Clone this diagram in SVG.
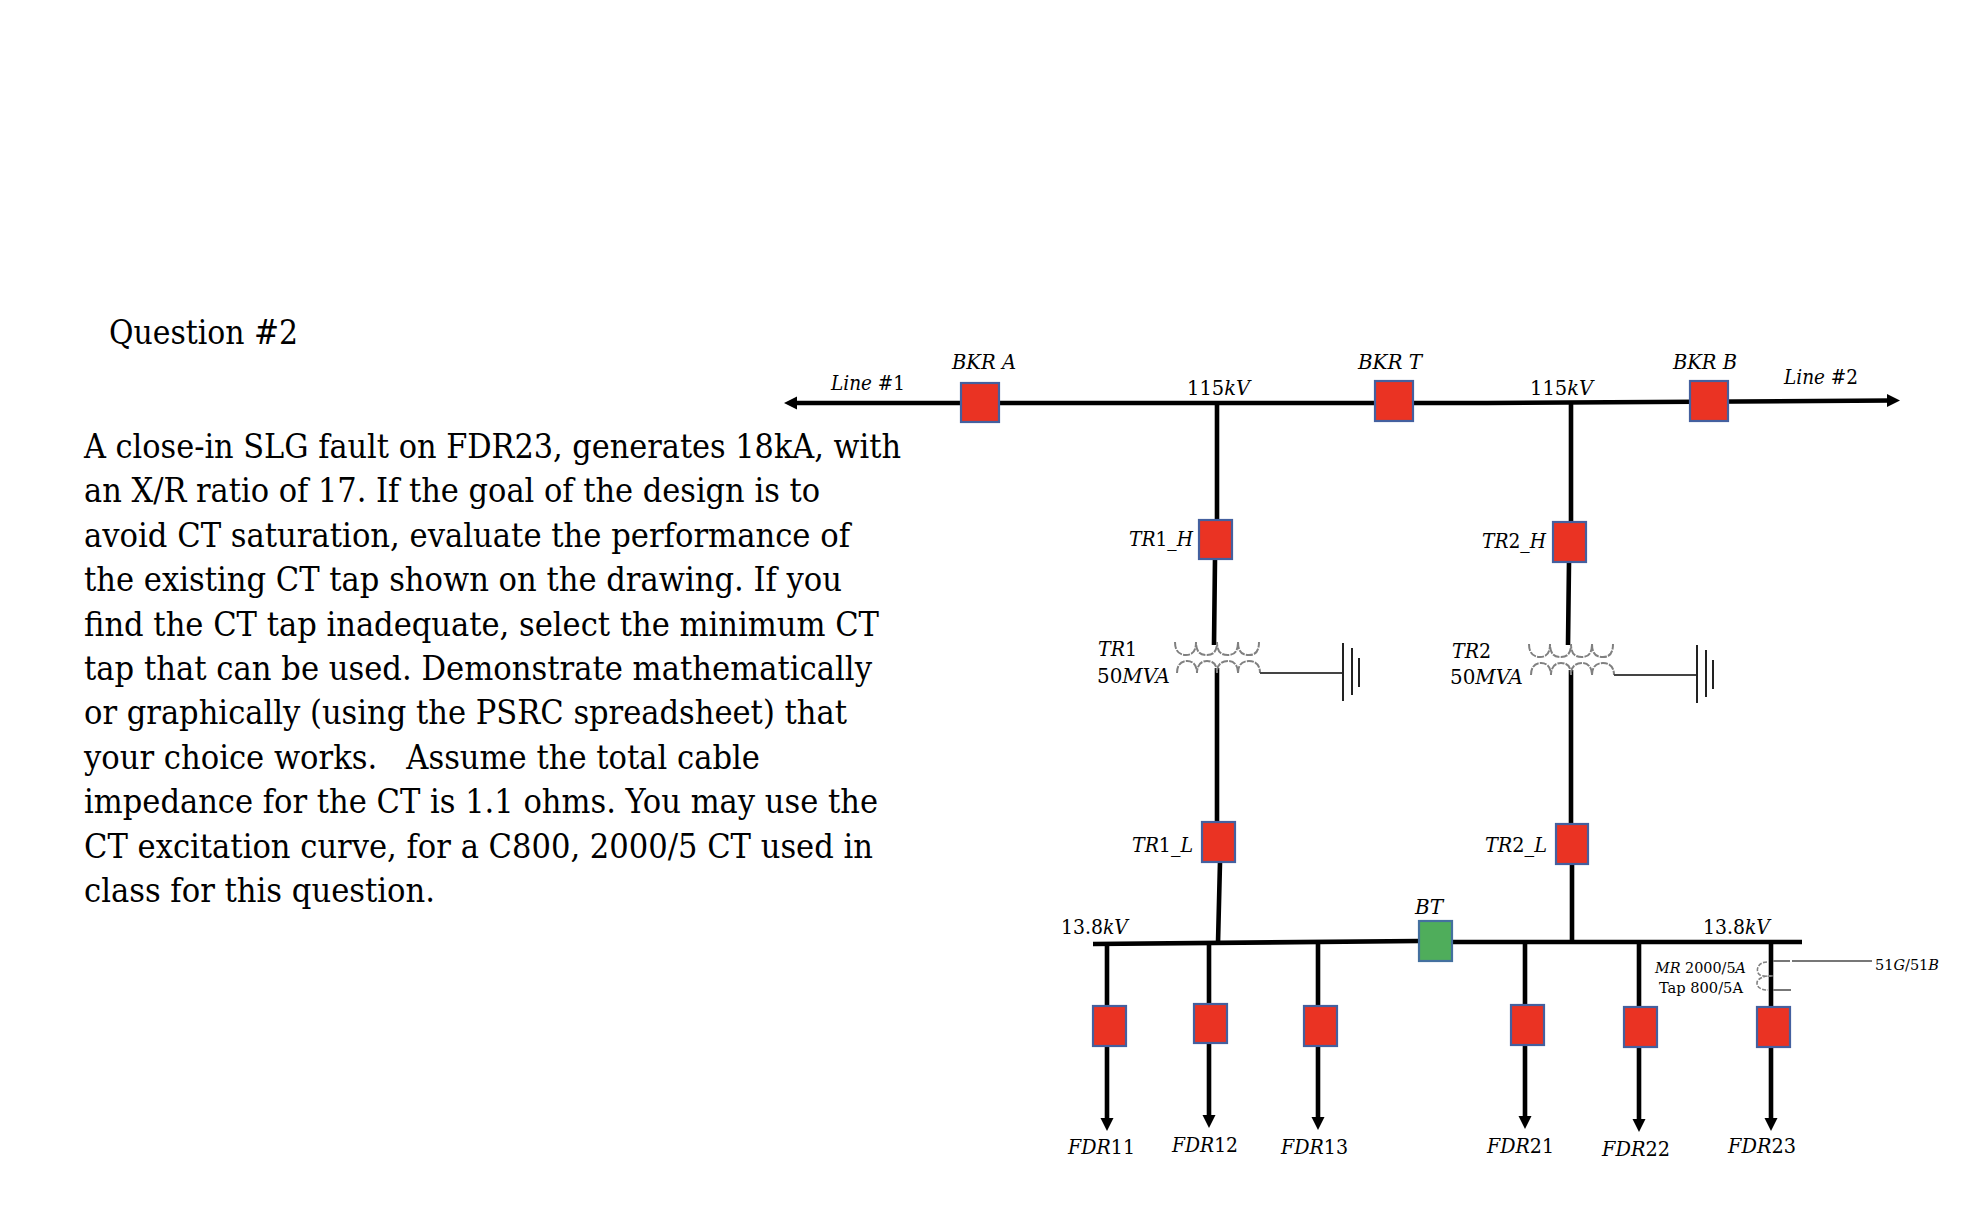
<svg xmlns="http://www.w3.org/2000/svg" width="1966" height="1211" viewBox="0 0 1966 1211">
<style>
text{fill:#000;font-family:"DejaVu Serif Condensed","DejaVu Serif","Liberation Serif",serif}
.t{font-size:34px;white-space:pre}
.l{font-size:20.5px}
.s{font-size:14.5px}
.i{font-style:italic}
.b{stroke:#000;stroke-width:4.6;fill:none}
.w{stroke:#444;stroke-width:1.8;fill:none}
.x{stroke:#777;stroke-width:1.8;fill:none}
.c{stroke:#808080;stroke-width:2;fill:none;stroke-dasharray:7 1.2}
.d{stroke:#808080;stroke-width:1.6;fill:none;stroke-dasharray:4 1.5}
.r{fill:#ea3323;stroke:#44609f;stroke-width:2.2}
.g{fill:#4fad5b;stroke:#44709f;stroke-width:2.2}
</style>
<defs>
<marker id="a" markerUnits="userSpaceOnUse" markerWidth="14" markerHeight="14" refX="5" refY="7" orient="auto-start-reverse"><path d="M0 0.5L13 7L0 13.5z" fill="#000"/></marker>
<g id="coil">
<path class="c" d="M1175 642C1175 652 1180 655 1186 655C1192 655 1196 652 1196 642C1196 652 1200 655 1207 655C1213 655 1217 652 1217 642C1217 652 1221 655 1228 655C1234 655 1238 652 1238 642C1238 652 1242 655 1249 655C1255 655 1259 652 1259 642"/>
<path class="c" d="M1177 673C1177 664 1182 661 1187 661C1192 661 1197 664 1197 673C1197 664 1202 661 1207 661C1213 661 1217 664 1217 673C1217 664 1222 661 1228 661C1233 661 1238 664 1238 673C1238 664 1243 661 1249 661C1255 661 1260 664 1260 673"/>
<path class="w" d="M1260 673H1343"/>
<path d="M1343 643V701M1352 648V695M1359 658V687" stroke="#222" stroke-width="2" fill="none"/>
</g>
</defs>
<rect width="1966" height="1211" fill="#fff"/>

<g id="question">
<text class="t" x="109" y="344" textLength="189" lengthAdjust="spacingAndGlyphs">Question #2</text>
<text class="t" x="84" y="458" textLength="817" lengthAdjust="spacingAndGlyphs">A close-in SLG fault on FDR23, generates 18kA, with</text>
<text class="t" x="84" y="502.4" textLength="736" lengthAdjust="spacingAndGlyphs">an X/R ratio of 17. If the goal of the design is to</text>
<text class="t" x="84" y="546.8" textLength="766" lengthAdjust="spacingAndGlyphs">avoid CT saturation, evaluate the performance of</text>
<text class="t" x="84" y="591.2" textLength="758" lengthAdjust="spacingAndGlyphs">the existing CT tap shown on the drawing. If you</text>
<text class="t" x="84" y="635.6" textLength="795" lengthAdjust="spacingAndGlyphs">find the CT tap inadequate, select the minimum CT</text>
<text class="t" x="84" y="680" textLength="788" lengthAdjust="spacingAndGlyphs">tap that can be used. Demonstrate mathematically</text>
<text class="t" x="84" y="724.4" textLength="763" lengthAdjust="spacingAndGlyphs">or graphically (using the PSRC spreadsheet) that</text>
<text class="t" x="84" y="768.8" textLength="676" lengthAdjust="spacingAndGlyphs">your choice works.   Assume the total cable</text>
<text class="t" x="84" y="813.2" textLength="794" lengthAdjust="spacingAndGlyphs">impedance for the CT is 1.1 ohms. You may use the</text>
<text class="t" x="84" y="857.6" textLength="789" lengthAdjust="spacingAndGlyphs">CT excitation curve, for a C800, 2000/5 CT used in</text>
<text class="t" x="84" y="902" textLength="351" lengthAdjust="spacingAndGlyphs">class for this question.</text>
</g>

<g id="connectors">
<path class="b" d="M792 403H1487L1892 400.500" marker-start="url(#a)" marker-end="url(#a)"/>
<path class="b" d="M1217 403V519M1215 559L1214 645M1217 668V822M1220 862L1218 943"/>
<path class="b" d="M1571 403V522M1569 562L1568 645M1571 670V824M1572 864V942"/>
<path class="b" d="M1093 944L1419 941M1453 942H1802"/>
<path class="b" d="M1107 944V1006M1107 1046V1123" marker-end="url(#a)"/>
<path class="b" d="M1209 943V1003M1209 1043V1120" marker-end="url(#a)"/>
<path class="b" d="M1318 942V1005M1318 1046V1122" marker-end="url(#a)"/>
<path class="b" d="M1525 942V1005M1525 1045V1121" marker-end="url(#a)"/>
<path class="b" d="M1639 942V1007M1639 1047V1124" marker-end="url(#a)"/>
<path class="b" d="M1771 942V1007M1771 1047V1123" marker-end="url(#a)"/>
</g>

<g id="line1"><text class="l" x="831" y="390" textLength="74" lengthAdjust="spacingAndGlyphs"><tspan class="i">Line</tspan> #1</text></g>
<g id="line2"><text class="l" x="1784" y="384" textLength="74" lengthAdjust="spacingAndGlyphs"><tspan class="i">Line</tspan> #2</text></g>
<g id="bus115-1"><text class="l" x="1187" y="395" textLength="63" lengthAdjust="spacingAndGlyphs">115<tspan class="i">kV</tspan></text></g>
<g id="bus115-2"><text class="l" x="1530" y="395" textLength="63" lengthAdjust="spacingAndGlyphs">115<tspan class="i">kV</tspan></text></g>
<g id="bus138-1"><text class="l" x="1061" y="934" textLength="67" lengthAdjust="spacingAndGlyphs">13.8<tspan class="i">kV</tspan></text></g>
<g id="bus138-2"><text class="l" x="1703" y="934" textLength="67" lengthAdjust="spacingAndGlyphs">13.8<tspan class="i">kV</tspan></text></g>

<g id="bkr-a"><rect class="r" x="961" y="383" width="38" height="39"/><text class="l i" x="952" y="369" textLength="64" lengthAdjust="spacingAndGlyphs">BKR A</text></g>
<g id="bkr-t"><rect class="r" x="1375" y="381" width="38" height="40"/><text class="l i" x="1358" y="369" textLength="64" lengthAdjust="spacingAndGlyphs">BKR T</text></g>
<g id="bkr-b"><rect class="r" x="1690" y="381" width="38" height="40"/><text class="l i" x="1673" y="369" textLength="64" lengthAdjust="spacingAndGlyphs">BKR B</text></g>
<g id="tr1-h"><rect class="r" x="1199" y="520" width="33" height="39"/><text class="l" x="1129" y="546" textLength="64" lengthAdjust="spacingAndGlyphs"><tspan class="i">TR</tspan>1_<tspan class="i">H</tspan></text></g>
<g id="tr2-h"><rect class="r" x="1553" y="522" width="33" height="40"/><text class="l" x="1482" y="548" textLength="64" lengthAdjust="spacingAndGlyphs"><tspan class="i">TR</tspan>2_<tspan class="i">H</tspan></text></g>
<g id="tr1-l"><rect class="r" x="1202" y="822" width="33" height="40"/><text class="l" x="1132" y="852" textLength="61" lengthAdjust="spacingAndGlyphs"><tspan class="i">TR</tspan>1_<tspan class="i">L</tspan></text></g>
<g id="tr2-l"><rect class="r" x="1556" y="824" width="32" height="40"/><text class="l" x="1485" y="852" textLength="62" lengthAdjust="spacingAndGlyphs"><tspan class="i">TR</tspan>2_<tspan class="i">L</tspan></text></g>
<g id="bt"><rect class="g" x="1419" y="921" width="33" height="40"/><text class="l i" x="1415" y="914" textLength="28" lengthAdjust="spacingAndGlyphs">BT</text></g>

<g id="tr1"><use href="#coil"/><text class="l" x="1098" y="656" textLength="39" lengthAdjust="spacingAndGlyphs"><tspan class="i">TR</tspan>1</text><text class="l" x="1097" y="683" textLength="73" lengthAdjust="spacingAndGlyphs">50<tspan class="i">MVA</tspan></text></g>
<g id="tr2"><use href="#coil" x="354" y="2"/><text class="l" x="1452" y="658" textLength="39" lengthAdjust="spacingAndGlyphs"><tspan class="i">TR</tspan>2</text><text class="l" x="1450" y="684" textLength="73" lengthAdjust="spacingAndGlyphs">50<tspan class="i">MVA</tspan></text></g>

<g id="fdr11"><rect class="r" x="1093" y="1006" width="33" height="40"/><text class="l" x="1068" y="1154" textLength="67" lengthAdjust="spacingAndGlyphs"><tspan class="i">FDR</tspan>11</text></g>
<g id="fdr12"><rect class="r" x="1194" y="1004" width="33" height="39"/><text class="l" x="1172" y="1152" textLength="66" lengthAdjust="spacingAndGlyphs"><tspan class="i">FDR</tspan>12</text></g>
<g id="fdr13"><rect class="r" x="1304" y="1006" width="33" height="40"/><text class="l" x="1281" y="1154" textLength="67" lengthAdjust="spacingAndGlyphs"><tspan class="i">FDR</tspan>13</text></g>
<g id="fdr21"><rect class="r" x="1511" y="1005" width="33" height="40"/><text class="l" x="1487" y="1153" textLength="67" lengthAdjust="spacingAndGlyphs"><tspan class="i">FDR</tspan>21</text></g>
<g id="fdr22"><rect class="r" x="1624" y="1007" width="33" height="40"/><text class="l" x="1602" y="1156" textLength="68" lengthAdjust="spacingAndGlyphs"><tspan class="i">FDR</tspan>22</text></g>
<g id="fdr23"><rect class="r" x="1757" y="1007" width="33" height="40"/><text class="l" x="1728" y="1153" textLength="68" lengthAdjust="spacingAndGlyphs"><tspan class="i">FDR</tspan>23</text></g>

<g id="ct">
<path class="d" d="M1767 962C1757 962 1755 972 1760 975C1764 977 1770 976 1773 976C1766 975 1757 978 1757 983C1757 988 1762 990 1768 990"/>
<path class="x" d="M1773 961H1790M1792 961H1872M1773 990H1791"/>
<text class="s" x="1655" y="973" textLength="91" lengthAdjust="spacingAndGlyphs"><tspan class="i">MR</tspan> 2000/5<tspan class="i">A</tspan></text>
<text class="s" x="1659" y="993" textLength="84" lengthAdjust="spacingAndGlyphs">Tap 800/5A</text>
<text class="s" x="1875" y="970" textLength="64" lengthAdjust="spacingAndGlyphs">51<tspan class="i">G</tspan>/51<tspan class="i">B</tspan></text>
</g>
</svg>
